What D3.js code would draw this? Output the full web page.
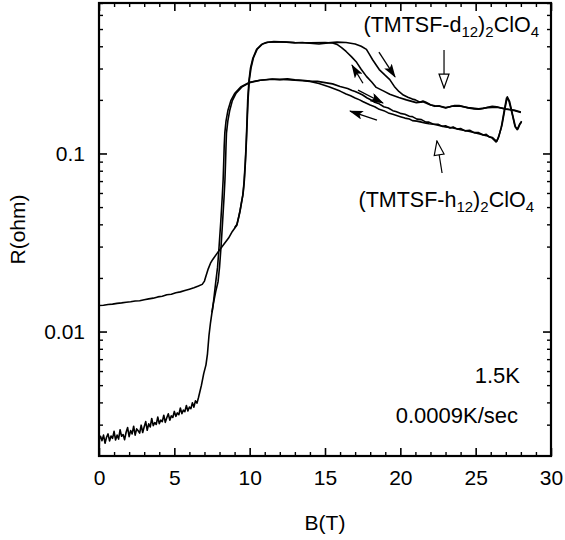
<!DOCTYPE html>
<html><head><meta charset="utf-8">
<script src="https://cdn.jsdelivr.net/npm/d3@7"></script>
<style>
html,body{margin:0;padding:0;background:#fff;}
text{font-family:"Liberation Sans",Arial,Helvetica,sans-serif;fill:#000;}
</style></head><body>
<svg id="chart" width="565" height="540"></svg>
<script>
// ---------- axis ticks ----------
const xMajor = [0, 5, 10, 15, 20, 25, 30];
const xMinor = [1,2,3,4,6,7,8,9,11,12,13,14,16,17,18,19,21,22,23,24,26,27,28,29];
const yMajor = [0.01, 0.1];
const yMajorLabels = ["0.01", "0.1"];
const yMinor = [0.003,0.004,0.005,0.006,0.007,0.008,0.009,0.02,0.03,0.04,0.05,0.06,0.07,0.08,0.09,0.2,0.3,0.4,0.5,0.6,0.7];

// ---------- data: [B (T), R (ohm)] ----------
// (TMTSF-h12)2ClO4, sweep 1
const h12Sweep1 = [
[0.0,0.0019],[0.03,0.0025],[0.1,0.00258],[0.2,0.00244],[0.3,0.00262],[0.4,0.00236],[0.5,0.00255],[0.6,0.00266],[0.7,0.00243],[0.8,0.00259],[0.9,0.00251],
[1.0,0.00275],[1.1,0.00246],[1.2,0.00262],[1.3,0.00249],[1.4,0.00281],[1.5,0.00258],[1.6,0.00264],[1.7,0.00247],[1.8,0.00272],[1.9,0.00289],
[2.0,0.00257],[2.1,0.00278],[2.2,0.00266],[2.3,0.00294],[2.4,0.00262],[2.5,0.00284],[2.6,0.00277],[2.7,0.00269],[2.8,0.00298],[2.9,0.00271],
[3.0,0.00292],[3.1,0.00312],[3.2,0.00279],[3.3,0.00303],[3.4,0.00291],[3.5,0.00325],[3.6,0.00296],[3.7,0.00308],[3.8,0.00301],[3.9,0.00331],
[4.0,0.00304],[4.1,0.00318],[4.2,0.00312],[4.3,0.00339],[4.4,0.00309],[4.5,0.00328],[4.6,0.00345],[4.7,0.00318],[4.8,0.00336],[4.9,0.00329],
[5.0,0.00356],[5.1,0.00334],[5.2,0.00349],[5.3,0.00341],[5.4,0.00372],[5.5,0.00346],[5.6,0.00362],[5.7,0.00355],[5.8,0.00384],[5.9,0.00358],
[6.0,0.00377],[6.1,0.00369],[6.2,0.00398],[6.3,0.00376],[6.4,0.00408],[6.5,0.00396],[6.6,0.00425],[6.8,0.005],[6.95,0.0058],[7.1,0.0065],
[7.2,0.0075],[7.3,0.0095],[7.4,0.0112],[7.5,0.0128],[7.6,0.0145],[7.75,0.0168],[7.9,0.019],[8.0,0.023],[8.1,0.03],[8.2,0.041],[8.3,0.057],
[8.36,0.0715],[8.4,0.09],[8.43,0.11],[8.46,0.13],[8.55,0.152],[8.68,0.175],[8.85,0.198],[9.1,0.218],[9.5,0.237],[10.0,0.25],[10.7,0.258],
[11.5,0.262],[12.0,0.26],[12.5,0.263],[13.0,0.259],[13.5,0.258],[14.0,0.255],[14.5,0.254],[15.0,0.25],[15.5,0.246],[16.0,0.238],[16.5,0.232],
[16.8,0.226],[17.0,0.223],[17.3,0.217],[17.5,0.213],[17.8,0.205],[18.0,0.201],[18.3,0.194],[18.6,0.19],[18.9,0.183],[19.2,0.18],[19.5,0.174],
[19.7,0.172],[20.0,0.168],[20.3,0.166],[20.6,0.162],[20.8,0.161],[21.1,0.156],[21.4,0.155],[21.7,0.15],[21.9,0.15],[22.2,0.146],[22.5,0.146],
[22.8,0.142],[23.0,0.143],[23.3,0.139],[23.5,0.141],[23.8,0.137],[24.0,0.138],[24.3,0.134],[24.6,0.135],[24.9,0.131],[25.2,0.131],[25.5,0.127],
[25.7,0.128],[25.9,0.124],[26.1,0.123],[26.3,0.119],[26.4,0.117],[26.55,0.126],[26.75,0.145],[26.95,0.18],[27.1,0.208],[27.25,0.196],
[27.45,0.165],[27.65,0.14],[27.8,0.137],[27.95,0.147],[28.05,0.15]
];
// (TMTSF-h12)2ClO4, sweep 2
const h12Sweep2 = [
[7.5,0.0128],[7.6,0.0147],[7.75,0.019],[7.87,0.023],[7.97,0.03],[8.08,0.041],[8.18,0.057],[8.24,0.0715],[8.28,0.09],[8.31,0.11],[8.35,0.13],
[8.43,0.152],[8.56,0.175],[8.75,0.198],[9.0,0.217],[9.4,0.236],[10.0,0.251],[10.7,0.258],[11.5,0.261],[12.5,0.26],[13.5,0.256],[14.0,0.254],
[14.6,0.247],[15.3,0.236],[16.0,0.224],[16.4,0.216],[16.7,0.211],[17.0,0.205],[17.3,0.2],[17.5,0.196],[18.0,0.187],[18.3,0.183],[18.6,0.177],
[18.9,0.174],[19.2,0.169],[19.5,0.166],[19.7,0.164],[20.0,0.161],[20.3,0.158],[20.6,0.156],[20.8,0.153],[21.1,0.152],[21.4,0.15],[21.7,0.148],
[21.9,0.147],[22.2,0.146],[22.5,0.144],[23.0,0.141],[23.5,0.139],[24.0,0.136],[24.6,0.133],[25.2,0.129],[25.7,0.126],[26.1,0.122],[26.35,0.116],
[26.5,0.122],[26.7,0.14],[26.9,0.175],[27.05,0.205],[27.2,0.198],[27.4,0.17],[27.6,0.143],[27.75,0.136],[27.9,0.145],[28.05,0.152]
];
// (TMTSF-d12)2ClO4, sweep 1
const d12Sweep1 = [
[0.0,0.014],[0.3,0.01405],[0.6,0.0142],[0.9,0.01425],[1.2,0.0144],[1.5,0.01448],[1.8,0.0146],[2.1,0.0147],[2.4,0.01485],[2.7,0.0149],
[3.0,0.0151],[3.3,0.01525],[3.6,0.0154],[3.9,0.01565],[4.2,0.0158],[4.5,0.0161],[4.8,0.0162],[5.1,0.0165],[5.4,0.0167],[5.7,0.017],
[6.0,0.0173],[6.3,0.0176],[6.6,0.018],[6.85,0.0184],[7.0,0.0192],[7.1,0.0205],[7.25,0.0225],[7.4,0.0242],[7.55,0.0254],[7.8,0.0272],
[8.0,0.0287],[8.3,0.031],[8.6,0.0335],[8.85,0.0365],[9.05,0.0385],[9.15,0.0395],[9.25,0.043],[9.34,0.0466],[9.45,0.053],[9.54,0.058],
[9.62,0.068],[9.7,0.087],[9.76,0.11],[9.82,0.15],[9.87,0.2],[9.95,0.255],[10.05,0.3],[10.2,0.34],[10.46,0.384],[10.8,0.41],[11.1,0.42],
[11.6,0.425],[12.45,0.422],[13.0,0.418],[13.5,0.42],[14.0,0.416],[14.6,0.412],[15.2,0.418],[15.8,0.422],[16.4,0.42],[17.0,0.412],[17.4,0.4],
[17.75,0.384],[17.95,0.36],[18.15,0.337],[18.35,0.318],[18.6,0.296],[18.95,0.277],[19.3,0.26],[19.6,0.238],[19.9,0.223],[20.2,0.213],
[20.5,0.207],[20.8,0.202],[21.0,0.2],[21.3,0.194],[21.5,0.197],[21.7,0.194],[22.0,0.188],[22.3,0.184],[22.6,0.185],[23.0,0.181],[23.3,0.183],
[23.6,0.186],[23.9,0.186],[24.2,0.183],[24.5,0.18],[24.9,0.178],[25.2,0.177],[25.5,0.179],[25.8,0.182],[26.1,0.184],[26.4,0.183],[26.7,0.18],
[27.0,0.177],[27.3,0.176],[27.6,0.174],[28.0,0.17]
];
// (TMTSF-d12)2ClO4, sweep 2
const d12Sweep2 = [
[9.0,0.0383],[9.15,0.04],[9.27,0.044],[9.37,0.048],[9.48,0.054],[9.57,0.06],[9.65,0.071],[9.72,0.09],[9.78,0.115],[9.84,0.155],[9.9,0.205],
[9.98,0.26],[10.1,0.305],[10.25,0.345],[10.5,0.385],[10.85,0.412],[11.2,0.421],[12.0,0.424],[13.0,0.42],[14.0,0.418],[15.0,0.42],[15.5,0.417],
[15.8,0.41],[16.1,0.393],[16.4,0.374],[16.75,0.35],[17.1,0.325],[17.4,0.297],[17.75,0.271],[18.1,0.252],[18.4,0.235],[18.9,0.224],[19.3,0.215],
[19.9,0.206],[20.4,0.2],[21.06,0.193],[21.5,0.195],[21.7,0.192],[22.0,0.187],[22.3,0.185],[22.6,0.184],[23.0,0.18],[23.4,0.184],[23.9,0.185],
[24.5,0.181],[25.2,0.178],[25.8,0.181],[26.4,0.182],[27.0,0.178],[27.6,0.175],[28.0,0.171]
];

// ---------- annotation arrows: [B0, R0, B1, R1] ----------
const sweepArrows = [
  [18.58, 0.371, 19.65, 0.269],
  [17.52, 0.248, 16.79, 0.314],
  [17.19, 0.227, 18.85, 0.192],
  [18.45, 0.154, 16.66, 0.173]
];
const labelArrows = [
  [22.9, 0.381, 22.9, 0.233],
  [22.77, 0.0777, 22.43, 0.1175]
];

// ---------- drawing ----------
const svg = d3.select("#chart");
const L = 99, R = 551, T = 3, B = 456;
const x = d3.scaleLinear().domain([0, 30]).range([L, R]);
const y = d3.scaleLog().domain([0.002, 0.7]).range([B, T]);

svg.append("defs").append("clipPath").attr("id", "clip")
  .append("rect").attr("x", L).attr("y", T).attr("width", R - L).attr("height", B - T);

const defs = svg.select("defs");
defs.append("marker").attr("id", "solidHead").attr("markerUnits", "userSpaceOnUse")
  .attr("viewBox", "0 0 14 9").attr("refX", 13).attr("refY", 4.5)
  .attr("markerWidth", 14).attr("markerHeight", 9).attr("orient", "auto")
  .append("path").attr("d", "M0,0 L14,4.5 L0,9 L3,4.5 Z").attr("fill", "#000");
defs.append("marker").attr("id", "openHead").attr("markerUnits", "userSpaceOnUse")
  .attr("viewBox", "-1 -1 16 12").attr("refX", 14).attr("refY", 5)
  .attr("markerWidth", 16).attr("markerHeight", 12).attr("orient", "auto")
  .append("path").attr("d", "M0,0 L14,5 L0,10 Z").attr("fill", "#fff")
  .attr("stroke", "#000").attr("stroke-width", 1.2).attr("stroke-linejoin", "miter");

const line = d3.line().x(d => x(d[0])).y(d => y(d[1]));
const gData = svg.append("g").attr("clip-path", "url(#clip)");
[h12Sweep1, h12Sweep2, d12Sweep1, d12Sweep2].forEach(s => {
  gData.append("path").datum(s).attr("d", line)
    .attr("fill", "none").attr("stroke", "#000").attr("stroke-width", 1.6)
    .attr("stroke-linejoin", "round");
});

// axes
function styleAxis(g, w) {
  g.select(".domain").remove();
  g.selectAll(".tick line").attr("stroke", "#000").attr("stroke-width", w);
  g.selectAll(".tick text").attr("font-size", 21).attr("font-family", '"Liberation Sans",Arial,sans-serif').attr("fill", "#000");
}
styleAxis(svg.append("g").attr("transform", `translate(0,${B})`)
  .call(d3.axisBottom(x).tickValues(xMajor).tickSize(-8).tickPadding(14).tickFormat(d3.format("d"))), 1.6);
styleAxis(svg.append("g").attr("transform", `translate(0,${B})`)
  .call(d3.axisBottom(x).tickValues(xMinor).tickSize(-4).tickFormat("")), 1.4);
styleAxis(svg.append("g").attr("transform", `translate(0,${T})`)
  .call(d3.axisTop(x).tickValues(xMajor).tickSize(-8).tickFormat("")), 1.6);
styleAxis(svg.append("g").attr("transform", `translate(0,${T})`)
  .call(d3.axisTop(x).tickValues(xMinor).tickSize(-4).tickFormat("")), 1.4);
styleAxis(svg.append("g").attr("transform", `translate(${L},0)`)
  .call(d3.axisLeft(y).tickValues(yMajor).tickSize(-8).tickPadding(14).tickFormat((d, i) => yMajorLabels[i])), 1.6);
styleAxis(svg.append("g").attr("transform", `translate(${L},0)`)
  .call(d3.axisLeft(y).tickValues(yMinor).tickSize(-4).tickFormat("")), 1.4);
styleAxis(svg.append("g").attr("transform", `translate(${R},0)`)
  .call(d3.axisRight(y).tickValues(yMajor).tickSize(-8).tickFormat("")), 1.6);
styleAxis(svg.append("g").attr("transform", `translate(${R},0)`)
  .call(d3.axisRight(y).tickValues(yMinor).tickSize(-4).tickFormat("")), 1.4);

svg.append("rect").attr("x", L).attr("y", T).attr("width", R - L).attr("height", B - T)
  .attr("fill", "none").attr("stroke", "#000").attr("stroke-width", 2.2);

// axis titles
svg.append("text").attr("x", (L + R) / 2).attr("y", 530).attr("text-anchor", "middle")
  .attr("font-size", 21).text("B(T)");
svg.append("text").attr("transform", `translate(25,${(T + B) / 2}) rotate(-90)`)
  .attr("text-anchor", "middle").attr("font-size", 21).text("R(ohm)");

// arrows
sweepArrows.forEach(a => {
  svg.append("line").attr("x1", x(a[0])).attr("y1", y(a[1])).attr("x2", x(a[2])).attr("y2", y(a[3]))
    .attr("stroke", "#000").attr("stroke-width", 1.3).attr("marker-end", "url(#solidHead)");
});
labelArrows.forEach(a => {
  svg.append("line").attr("x1", x(a[0])).attr("y1", y(a[1])).attr("x2", x(a[2])).attr("y2", y(a[3]))
    .attr("stroke", "#000").attr("stroke-width", 1.2).attr("marker-end", "url(#openHead)");
});

// compound labels with subscripts
function formula(xp, yp, iso) {
  const t = svg.append("text").attr("x", xp).attr("y", yp).attr("text-anchor", "end").attr("font-size", 21.5);
  t.append("tspan").text("(TMTSF-" + iso);
  t.append("tspan").attr("font-size", 15).attr("dy", 5).text("12");
  t.append("tspan").attr("dy", -5).text(")");
  t.append("tspan").attr("font-size", 15).attr("dy", 5).text("2");
  t.append("tspan").attr("dy", -5).text("ClO");
  t.append("tspan").attr("font-size", 15).attr("dy", 5).text("4");
}
formula(539, 32, "d");
formula(534, 207, "h");

svg.append("text").attr("x", 520).attr("y", 383).attr("text-anchor", "end").attr("font-size", 22).text("1.5K");
svg.append("text").attr("x", 518).attr("y", 423).attr("text-anchor", "end").attr("font-size", 22).text("0.0009K/sec");
</script>
</body></html>
